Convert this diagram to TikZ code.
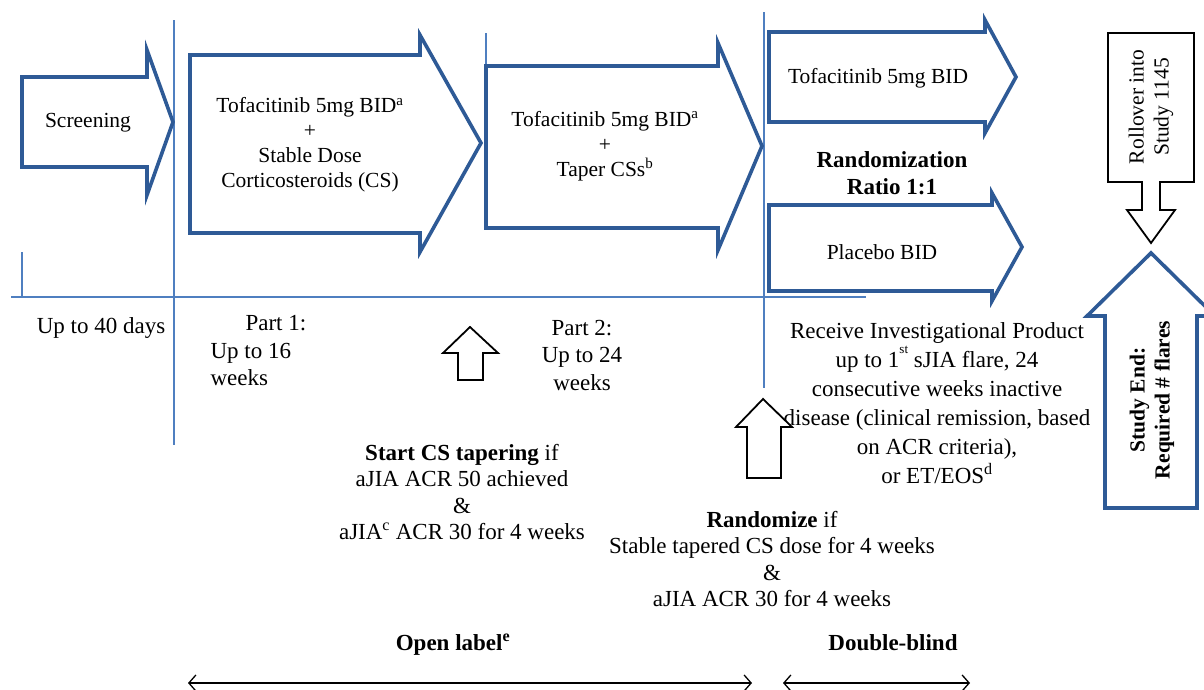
\documentclass[tikz,border=0pt]{standalone}
\usepackage{fontspec}
\setmainfont{Liberation Serif}
\usetikzlibrary{arrows.meta}
\usepackage{xcolor}
\definecolor{phaseblue}{HTML}{2E5A96}
\definecolor{ruleblue}{HTML}{4F7FC0}

\begin{document}
\begin{tikzpicture}[
    x=1pt, y=-1pt,
    % heavy blue outline for the treatment phases
    phase/.style={draw=phaseblue, line width=3.6pt, fill=white, line join=miter},
    % thin black outline arrows
    hollow/.style={draw=black, line width=1.8pt, fill=white, line join=miter},
    rule/.style={draw=ruleblue, line width=1.1pt},
    boxtxt/.style={align=center, font=\fontsize{21.5}{25}\selectfont},
    txt/.style={align=center, font=\fontsize{23}{27.5}\selectfont},
    head/.style={align=center, font=\fontsize{23}{27}\selectfont\bfseries},
    span/.style={{Straight Barb[length=7pt,width=16pt]}-{Straight Barb[length=7pt,width=16pt]}, line width=1.3pt},
]
\useasboundingbox (0,0) rectangle (1204,689);

%================= time rules =================%
\draw[rule] (11,297) -- (866,297);
\draw[rule] (22,252) -- (22,297);
\draw[rule] (174,20) -- (174,445);
\draw[rule] (486,33) -- (486,66);
\draw[rule] (764,12) -- (764,388);

%================= phase arrows =================%
\draw[phase] (22,77) -- (147,77) -- (147,50) -- (173,122) -- (147,195) -- (147,167) -- (22,167) -- cycle;
\node[boxtxt] (screen) at (88,123) {Screening};

\draw[phase] (190,55) -- (420,55) -- (420,35) -- (481,143) -- (420,252) -- (420,233) -- (190,233) -- cycle;
\node[boxtxt] (part1) at (310,145) {Tofacitinib 5mg BID\textsuperscript{a}\\+\\Stable Dose\\Corticosteroids (CS)};

\draw[phase] (486,66) -- (718,66) -- (718,43) -- (762,146) -- (718,250) -- (718,228) -- (486,228) -- cycle;
\node[boxtxt] (part2) at (605,146) {Tofacitinib 5mg BID\textsuperscript{a}\\+\\Taper CSs\textsuperscript{b}};

\draw[phase] (769,32) -- (985,32) -- (985,20) -- (1016,77) -- (985,133) -- (985,122) -- (769,122) -- cycle;
\node[boxtxt] (tofa) at (878,78) {Tofacitinib 5mg BID};

\draw[phase] (769,205) -- (992,205) -- (992,193) -- (1022,247) -- (992,301) -- (992,291) -- (769,291) -- cycle;
\node[boxtxt] (placebo) at (882,252) {Placebo BID};

\node[head] (ratio) at (892,173) {Randomization\\Ratio 1:1};

%================= end of study =================%
\draw[hollow] (1108,33) -- (1194,33) -- (1194,182) -- (1160,182) -- (1160,210) -- (1175,210)
      -- (1151,243) -- (1127,210) -- (1142,210) -- (1142,182) -- (1108,182) -- cycle;
\node[boxtxt, rotate=90] (rollover) at (1151,107) {Rollover into\\Study 1145};

\draw[phase] (1105,508) -- (1105,316) -- (1087,316) -- (1151,253) -- (1215,316) -- (1197,316) -- (1197,508) -- cycle;
\node[boxtxt, font=\fontsize{21.5}{25}\selectfont\bfseries, rotate=90] (studyend) at (1152,400) {Study End:\\Required \# flares};

%================= durations =================%
\node[txt] (screendur) at (101,328) {Up to 40 days};
\node[txt, align=left, anchor=north west] (part1dur) at (207,312) {\hspace*{35pt}Part 1:\\Up to 16\\weeks};
\node[txt] (part2dur) at (582,355) {Part 2:\\Up to 24\\weeks};
\node[txt, font=\fontsize{23}{29}\selectfont] (ipdur) at (937,403) {Receive Investigational Product\\up to 1\raisebox{1.3ex}{\fontsize{13}{13}\selectfont st} sJIA flare, 24\\consecutive weeks inactive\\disease (clinical remission, based\\on ACR criteria),\\or ET/EOS\textsuperscript{d}};

%================= decision points =================%
\draw[hollow] (458,380) -- (458,353) -- (443,353) -- (470,327) -- (498,353) -- (483,353) -- (483,380) -- cycle;
\node[txt, font=\fontsize{23}{26.5}\selectfont] (taper) at (462,492) {\textbf{Start CS tapering} if\\aJIA ACR 50 achieved\\\&\\aJIA\textsuperscript{c} ACR 30 for 4 weeks};

\draw[hollow] (747,478) -- (747,427) -- (736,427) -- (763,399) -- (792,427) -- (781,427) -- (781,478) -- cycle;
\node[txt, font=\fontsize{23}{26.5}\selectfont] (random) at (772,559) {\textbf{Randomize} if\\Stable tapered CS dose for 4 weeks\\\&\\aJIA ACR 30 for 4 weeks};

%================= blinding =================%
\node[head] (openlab) at (453,645) {Open label\textsuperscript{e}};
\node[head] (dblind) at (893,643) {Double-blind};
\coordinate (ol-a) at (188,683);
\coordinate (ol-b) at (752,683);
\coordinate (db-a) at (783,683);
\coordinate (db-b) at (970,683);
\draw[span] (ol-a) -- (ol-b);
\draw[span] (db-a) -- (db-b);

\end{tikzpicture}
\end{document}
